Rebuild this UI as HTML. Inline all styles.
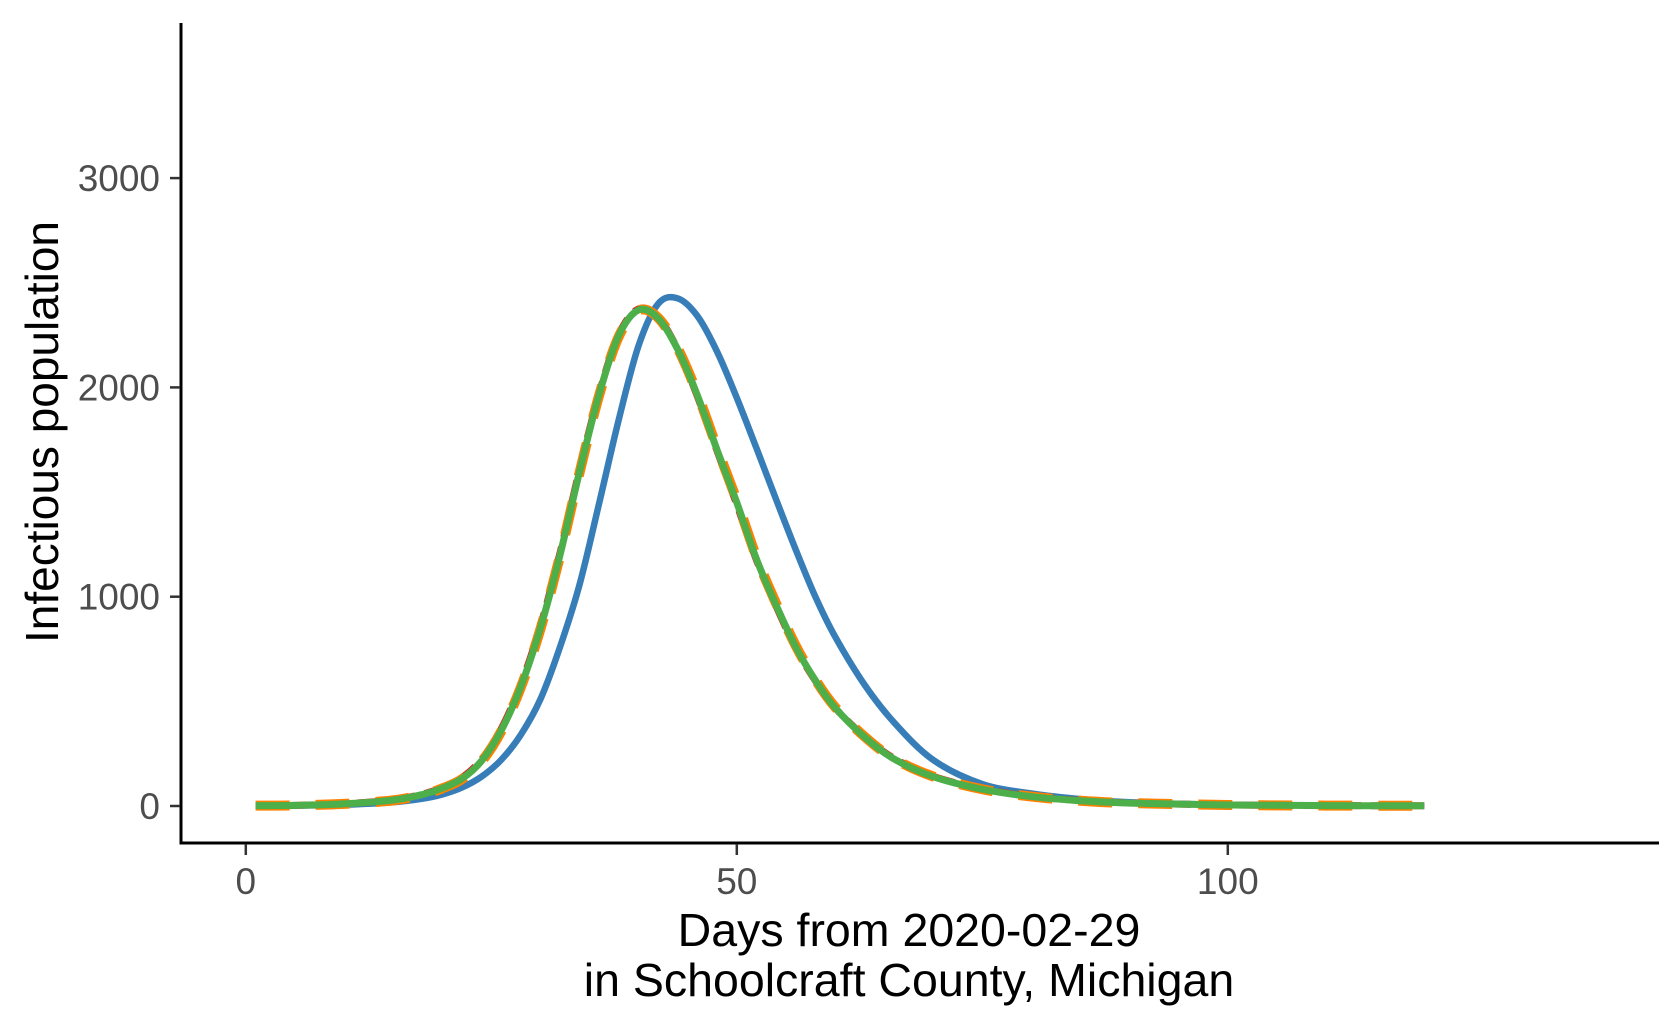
<!DOCTYPE html>
<html><head><meta charset="utf-8"><style>
html,body{margin:0;padding:0;background:#fff;}
svg{display:block;font-family:"Liberation Sans",Arial,sans-serif;}
</style></head><body>
<svg id="chart" width="1659" height="1025" viewBox="0 0 1659 1025">
<g id="axes"></g>
<g id="series"></g>
<text x="909" y="946" font-size="46.5" text-anchor="middle" fill="#000">Days from 2020-02-29</text>
<text x="909" y="996" font-size="46.5" text-anchor="middle" fill="#000">in Schoolcraft County, Michigan</text>
<text transform="translate(58,432) rotate(-90)" font-size="46" text-anchor="middle" fill="#000">Infectious population</text>
</svg>
<script>
const days = [1,5,10,15,18,20,22,24,26,28,30,32,34,36,38,40,42,44,46,48,50,52,54,56,58,60,63,66,70,75,80,85,90,100,110,120];
const greenVals = [2,3,10,28,55,85,130,215,360,570,850,1200,1600,1970,2250,2370,2330,2180,1960,1700,1450,1180,960,760,600,470,330,225,140,80,45,25,14,5,2,1];
const redVals = [2,3,11,29,57,88,135,222,368,580,860,1210,1610,1975,2255,2375,2335,2180,1955,1695,1440,1175,955,755,598,470,332,228,142,82,46,26,15,5,2,1];
const orangeVals = [2,3,10,27,54,84,128,212,356,566,845,1195,1595,1965,2245,2368,2332,2185,1968,1710,1460,1190,968,766,604,473,332,226,141,80,45,25,14,5,2,1];
const blueVals = [1,2,6,18,35,55,88,140,220,340,510,760,1060,1450,1850,2200,2400,2425,2340,2170,1950,1710,1465,1225,1000,810,580,400,220,105,60,33,18,6,2,1];
const xTicks = [0,50,100];
const yTicks = [0,1000,2000,3000];

const X = d => 245.8 + d * 9.82;
const Y = v => 806 - v * 0.2093;
const NS = "http://www.w3.org/2000/svg";
const axes = document.getElementById('axes');
const series = document.getElementById('series');
function mk(tag, attrs, parent){const e=document.createElementNS(NS,tag);for(const k in attrs)e.setAttribute(k,attrs[k]);parent.appendChild(e);return e;}

const yl = mk('line',{x1:181,y1:23,x2:181,y2:844.5,stroke:'#000','stroke-width':3},axes);


const xl = mk('line',{x1:179.5,y1:843,x2:1659,y2:843,stroke:'#000','stroke-width':3},axes);



xTicks.forEach(t=>{
  const tk = mk('line',{x1:X(t),y1:844,x2:X(t),y2:855,stroke:'#333','stroke-width':2.5},axes);
  
  
  const lb = mk('text',{x:X(t),y:894,'font-size':37,'text-anchor':'middle',fill:'#4d4d4d'},axes);
  lb.textContent = t;
  
  
});
yTicks.forEach(t=>{
  const tk = mk('line',{x1:170,y1:Y(t),x2:180,y2:Y(t),stroke:'#333','stroke-width':2.5},axes);
  
  
  const lb = mk('text',{x:160,y:Y(t)+13,'font-size':37,'text-anchor':'end',fill:'#4d4d4d'},axes);
  lb.textContent = t;
  
  
});

function pathFor(vals){
  const p = days.map((d,i)=>[X(d),Y(vals[i])]);
  let s = 'M'+p[0][0]+','+p[0][1];
  for(let i=0;i<p.length-1;i++){
    const p0=p[Math.max(0,i-1)],p1=p[i],p2=p[i+1],p3=p[Math.min(p.length-1,i+2)];
    const c1=[p1[0]+(p2[0]-p0[0])/6,p1[1]+(p2[1]-p0[1])/6];
    const c2=[p2[0]-(p3[0]-p1[0])/6,p2[1]-(p3[1]-p1[1])/6];
    s+=' C'+c1[0]+','+c1[1]+' '+c2[0]+','+c2[1]+' '+p2[0]+','+p2[1];
  }
  return s;
}
const blue = mk('path',{d:pathFor(blueVals),fill:'none',stroke:'#377EB8','stroke-width':6.5},series);


const purple = mk('path',{d:pathFor(redVals),fill:'none',stroke:'#984EA3','stroke-width':5,'stroke-dasharray':'12 8'},series);


const red = mk('path',{d:pathFor(redVals),fill:'none',stroke:'#E41A1C','stroke-width':7,'stroke-dasharray':'24 10'},series);


const orange = mk('path',{d:pathFor(orangeVals),fill:'none',stroke:'#FF7F00','stroke-width':10,'stroke-dasharray':'34 26'},series);


const green = mk('path',{d:pathFor(greenVals),fill:'none',stroke:'#4DAF4A','stroke-width':7},series);


</script>
</body></html>
